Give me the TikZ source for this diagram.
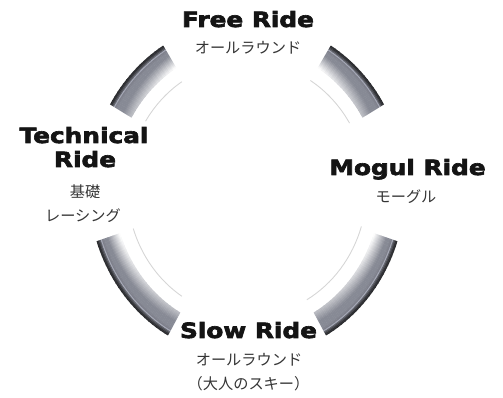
\documentclass[tikz,border=0pt]{standalone}
\usepackage{fontspec}
\newfontfamily\heavy{DejaVu Sans Bold}[FakeStretch=1.18,FakeBold=3]
\newfontfamily\jp{Noto Sans CJK JP}
\definecolor{headcol}{HTML}{141414}
\definecolor{jpcol}{HTML}{353535}
\definecolor{thinline}{HTML}{D6D6D6}
\tikzset{
  head/.style={anchor=base, inner sep=0pt, text=headcol, font=\heavy\fontsize{21}{24}\selectfont},
  jptext/.style={anchor=base, inner sep=0pt, text=jpcol, font=\jp\fontsize{15.2}{18}\selectfont},
  seg/.style={line width=1.5pt},
  thinarc/.style={line width=0.9pt, draw=thinline}
}
\begin{document}
\begin{tikzpicture}[x=1pt,y=1pt]
\useasboundingbox (0,0) rectangle (503,398);
\def\cx{247}\def\cy{209}\def\rx{158}\def\ry{169}
% shaded ring pieces
\foreach \ta/\tb/\M in {122/150/16, 58/30/16, 198/240/24, 342/300/24}{
  \foreach \i in {1,...,\M}{
    \pgfmathsetmacro\myAone{\ta+(\tb-\ta)*(\i-1)/\M}
    \pgfmathsetmacro\myAtwo{\ta+(\tb-\ta)*(\i)/\M + (\i<\M ? 0.4*sign(\tb-\ta) : 0)}
    \pgfmathsetmacro\myV{(\i-0.5)/\M}
    \pgfmathsetmacro\myFa{0.46+0.16*\myV}
    \pgfmathsetmacro\myFb{0.98+0.5*\myV}
    \foreach \j in {1,...,22}{
      \pgfmathsetmacro\myU{(\j-0.5)/22}
      \pgfmathsetmacro\myG{\myU<0.08 ? 0.16+0.5*\myU : (\myU<0.18 ? 0.2+2.3*(\myU-0.08) : (\myU<0.21 ? 0.43+9*(\myU-0.18) : (\myU<0.24 ? 0.70-7*(\myU-0.21) : (\myU<0.34 ? 0.49+0.4*(\myU-0.24) : 0.53))))}
      \pgfmathsetmacro\myF{max(0,min(1,(\myU-\myFa)/(\myFb-\myFa)))}
      \pgfmathsetmacro\myR{\myG+(1-\myG)*\myF}
      \pgfmathsetmacro\myGG{min(1,\myG*1.02)}
      \pgfmathsetmacro\myGG{\myGG+(1-\myGG)*\myF}
      \pgfmathsetmacro\myBB{min(1,\myG*1.1)}
      \pgfmathsetmacro\myBB{\myBB+(1-\myBB)*\myF}
      \pgfmathsetmacro\myS{1-0.155*\myU}
      \definecolor{cur}{rgb}{\myR,\myGG,\myBB}
      \draw[seg, draw=cur] (\cx,\cy) ++(\myAone:{\rx*\myS} and {\ry*\myS})
        arc[start angle=\myAone, end angle=\myAtwo, x radius={\rx*\myS}, y radius={\ry*\myS}];
    }
  }
}
% thin inner arcs
\foreach \ta/\tb in {123/148, 31/58, 198/237, 300/343}{
  \draw[thinarc] (\cx,\cy) ++(\ta:{\rx*0.757} and {\ry*0.757})
    arc[start angle=\ta, end angle=\tb, x radius={\rx*0.757}, y radius={\ry*0.757}];
}
% labels
\node[head] (free) at (248,371) {Free Ride};
\node[jptext] (freejp) at (248,344) {オールラウンド};
\node[head] (tech1) at (84,255) {Technical};
\node[head] (tech2) at (85,231) {Ride};
\node[jptext] (techjp1) at (85,200) {基礎};
\node[jptext] (techjp2) at (83,176.5) {レーシング};
\node[head] (mogul) at (407.5,223) {Mogul Ride};
\node[jptext] (moguljp) at (406,195) {モーグル};
\node[head] (slow) at (248.5,60) {Slow Ride};
\node[jptext] (slowjp1) at (249,32) {オールラウンド};
\node[jptext] (slowjp2) at (248.5,8) {（大人のスキー）};
\end{tikzpicture}
\end{document}
